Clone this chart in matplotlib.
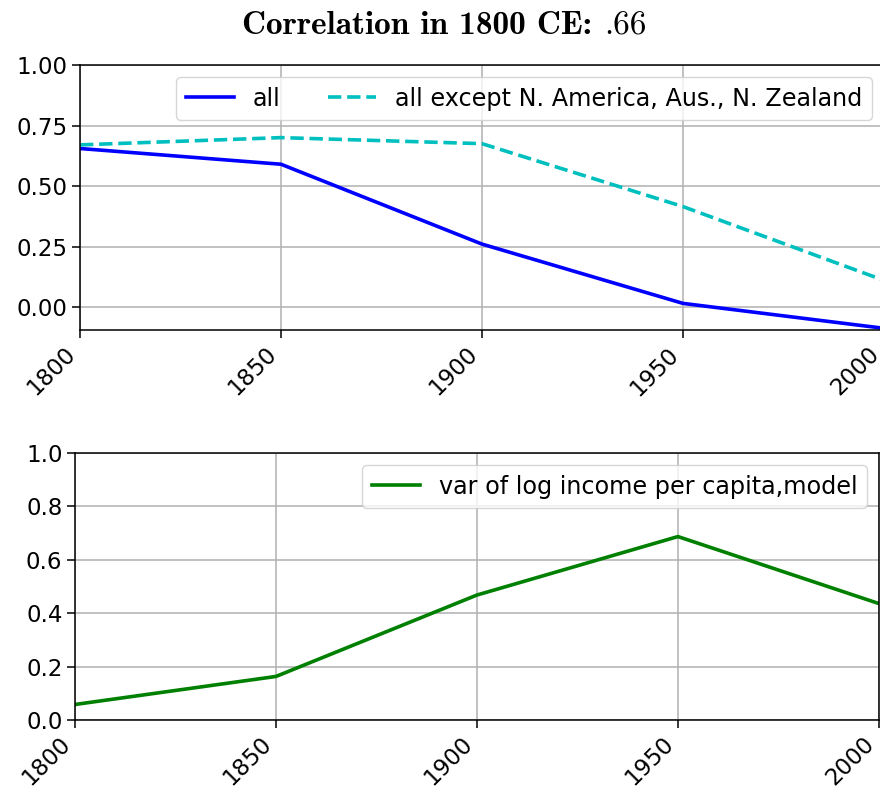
import matplotlib
matplotlib.use("Agg")
import matplotlib.pyplot as plt

# data
years = [1800, 1850, 1900, 1950, 2000]
corr_all = [0.655, 0.59, 0.26, 0.015, -0.088]
corr_excl = [0.67, 0.70, 0.675, 0.415, 0.11]
var_log_income = [0.058, 0.163, 0.468, 0.687, 0.436]

year_ticks = [1800, 1850, 1900, 1950, 2000]
corr_ticks = [0.0, 0.25, 0.5, 0.75, 1.0]
var_ticks = [0.0, 0.2, 0.4, 0.6, 0.8, 1.0]

plt.rcParams['font.family'] = 'DejaVu Sans'
plt.rcParams['axes.linewidth'] = 1.1
plt.rcParams['grid.linewidth'] = 1.1
plt.rcParams['xtick.major.size'] = 5.5
plt.rcParams['ytick.major.size'] = 5.5
plt.rcParams['xtick.major.width'] = 1.1
plt.rcParams['ytick.major.width'] = 1.1
tick_fs = 16.5
leg_fs = 17.2
lw = 2.6

fig = plt.figure(figsize=(8.8, 7.91), dpi=100)
ax1 = fig.add_axes([0.0909, 0.5828, 0.9136, 0.3350])
ax2 = fig.add_axes([0.0852, 0.0898, 0.9136, 0.3375])

# top panel: correlations
ax1.plot(years, corr_all, color='b', lw=lw, label='all')
ax1.plot(years, corr_excl, color='c', lw=lw, ls='--',
         label='all except N. America, Aus., N. Zealand')
ax1.set_xlim(1800, 2000)
ax1.set_ylim(-0.095, 1.0)
ax1.set_yticks(corr_ticks)
ax1.set_yticklabels(['%.2f' % v for v in corr_ticks], fontsize=tick_fs)
ax1.set_xticks(year_ticks)
ax1.set_xticklabels([str(y) for y in year_ticks], rotation=45, ha='right', fontsize=tick_fs)
ax1.grid(True)
ax1.legend(loc='upper right', ncol=2, fontsize=leg_fs)

# title: bold part in cmb10, the number in regular cmr10
t1 = fig.text(242 / 880, 0.9565, 'Correlation in 1800 CE:', fontfamily='cmb10',
              fontsize=24, ha='left', va='baseline')
fig.canvas.draw()
bb = t1.get_window_extent()
fig.text((bb.x1 + 12) / 880, 0.9565, '.66', fontfamily='cmr10',
         fontsize=24, ha='left', va='baseline')

# bottom panel: variance of log income
ax2.plot(years, var_log_income, color='g', lw=lw,
         label='var of log income per capita,model')
ax2.set_xlim(1800, 2000)
ax2.set_ylim(0.0, 1.0)
ax2.set_yticks(var_ticks)
ax2.set_yticklabels(['%.1f' % v for v in var_ticks], fontsize=tick_fs)
ax2.set_xticks(year_ticks)
ax2.set_xticklabels([str(y) for y in year_ticks], rotation=45, ha='right', fontsize=tick_fs)
ax2.grid(True)
ax2.legend(loc='upper right', fontsize=leg_fs)

fig.savefig('out.png', dpi=100)
